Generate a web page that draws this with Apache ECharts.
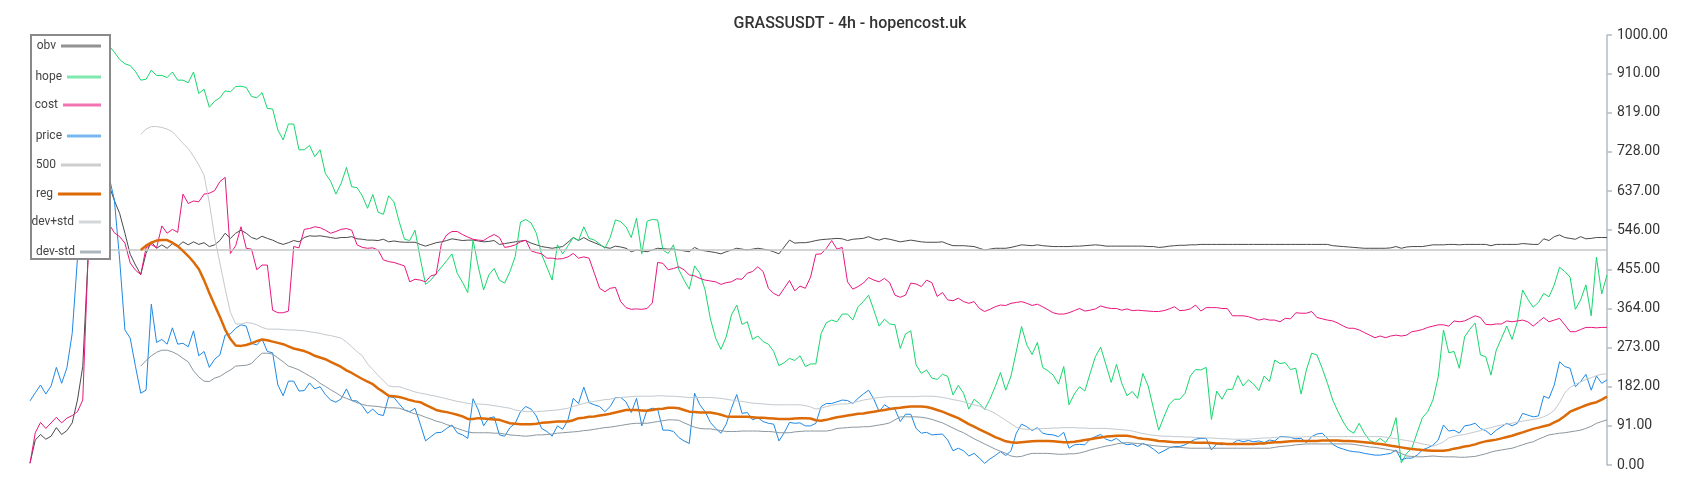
<!DOCTYPE html>
<html><head><meta charset="utf-8">
<script src="https://cdn.jsdelivr.net/npm/echarts@6/dist/echarts.min.js"></script>
<style>html,body{margin:0;padding:0;background:#fff}#c{width:1700px;height:500px}</style>
</head><body><div id="c"></div>
<script>
const titleText = 'GRASSUSDT - 4h - hopencost.uk';
const seriesNames = ['obv','hope','cost','price','500','reg','dev+std','dev-std'];
const yMin = 0, yMax = 1000, yStep = 91;

const obv = [
4,58,71,60,67,87,71,80,98,151,
229,480,620,700,690,650,615,585,539,490,
465,443,492,519,504,512,504,515,508,519,
512,519,513,517,508,512,522,539,527,539,
546,539,529,525,532,527,523,517,513,517,
522,519,529,533,532,533,531,529,527,529,
529,531,526,525,523,523,522,525,519,521,
519,518,518,518,513,509,513,517,519,522,
526,524,522,523,523,521,519,520,522,513,
515,517,519,521,522,516,512,508,506,504,
506,508,518,529,522,529,522,517,512,506,
504,509,507,504,496,500,498,496,500,504,
503,502,502,500,498,496,506,500,498,496,
494,491,496,500,504,502,500,502,504,502,
500,496,491,507,523,516,517,517,519,522,
524,525,526,527,526,522,525,526,527,531,
526,523,527,525,522,519,521,523,521,519,
518,518,518,519,514,510,510,510,509,508,
504,500,502,504,504,504,506,509,512,511,
510,512,510,509,508,508,508,508,509,509,
510,511,512,511,509,509,509,509,509,509,
509,509,508,508,506,507,509,510,511,511,
512,512,513,513,513,513,513,513,513,513,
513,513,513,513,513,513,513,513,513,513,
513,513,513,513,513,513,513,510,509,508,
507,506,505,504,504,504,504,504,505,508,
504,507,508,508,508,510,512,512,512,513,
513,512,513,513,513,513,513,510,513,513,
513,513,513,515,514,513,513,526,522,531,
535,529,527,525,531,526,527,529,529,529];

const hope = [
null,null,null,null,null,null,null,null,null,null,
null,null,null,1000,990,975,960,943,933,929,
915,895,897,918,906,906,901,914,895,895,
889,914,864,874,832,846,854,870,868,880,
881,878,857,854,866,829,828,779,756,793,
793,733,733,743,717,733,678,660,630,655,
692,647,645,626,597,629,588,583,626,612,
566,525,522,546,480,420,430,445,460,475,
491,446,425,401,523,461,407,442,457,430,
423,450,485,565,571,563,539,490,460,430,
512,491,510,529,522,554,527,523,514,504,
529,570,566,554,529,574,491,567,571,570,
500,492,512,455,430,409,463,446,407,340,
295,269,298,349,372,327,333,292,300,287,
281,264,231,238,248,243,254,229,235,235,
306,331,337,333,351,351,337,368,380,395,
360,323,339,328,326,271,305,312,233,213,
221,202,199,211,206,163,185,167,130,153,
143,129,153,182,215,174,207,264,322,279,
257,285,227,219,209,188,229,140,165,182,
172,213,252,274,233,192,234,190,161,171,
155,213,184,132,81,112,141,153,153,167,
207,222,221,227,106,172,153,176,176,208,
184,198,188,173,207,194,244,236,238,222,
225,165,221,260,256,225,190,151,124,100,
81,74,97,74,57,52,62,52,70,110,
5,27,39,75,110,124,151,205,314,261,
264,225,298,316,330,256,252,209,267,295,
323,292,333,407,385,367,378,399,391,419,
460,450,437,362,384,419,347,483,398,442];

const cost = [
4,75,99,85,98,111,98,109,115,124,
151,480,640,680,620,560,540,531,516,470,
453,443,505,513,505,556,539,548,541,630,
608,614,612,630,632,638,659,669,492,510,
554,504,502,454,465,465,360,354,354,358,
508,505,548,550,554,552,546,539,543,548,
550,546,512,506,504,505,500,477,473,471,
467,463,426,432,430,426,440,443,515,535,
543,543,536,530,525,523,522,530,536,529,
506,508,512,519,523,498,494,491,481,481,
479,480,484,492,481,484,481,446,411,403,
411,413,380,366,362,363,362,364,377,471,
469,454,457,461,454,442,440,434,430,428,
426,420,424,426,433,432,446,450,461,450,
411,399,393,411,429,405,416,411,437,490,
491,504,522,502,506,426,409,415,423,436,
430,426,434,424,395,390,395,423,421,415,
430,424,392,401,384,382,388,380,376,380,
364,357,362,368,372,371,376,378,380,376,
371,374,368,361,354,351,351,354,359,364,
358,360,363,370,366,364,364,360,363,359,
360,359,358,357,357,359,363,368,359,360,
363,372,358,366,366,366,364,364,347,347,
347,345,341,337,340,337,337,333,341,340,
354,353,353,357,343,340,337,335,330,323,
318,318,314,308,302,296,300,296,300,302,
300,302,310,312,315,320,323,326,326,323,
335,333,335,341,347,343,327,326,328,328,
335,333,335,337,333,323,333,343,333,337,
341,326,310,310,315,320,320,319,320,320];

const price = [
149,168,186,165,184,227,190,226,306,480,
620,700,720,700,690,670,616,477,314,295,
229,167,174,374,285,292,281,319,281,283,
275,312,254,264,227,246,256,302,305,318,
326,323,283,279,293,264,261,186,161,195,
195,172,173,191,177,182,164,151,146,154,
177,150,149,138,120,130,118,115,159,157,
142,128,124,132,95,56,66,75,76,85,
93,75,70,62,154,128,91,109,112,70,
67,87,97,124,136,130,114,85,78,67,
91,83,105,155,143,181,145,140,136,124,
136,157,157,147,122,155,91,128,132,130,
81,81,78,64,56,50,167,140,124,99,
85,74,95,132,164,120,122,105,110,101,
97,95,56,75,99,97,98,91,91,97,
136,143,143,147,151,150,143,155,165,174,
153,124,140,132,130,101,118,118,85,74,
76,70,71,72,58,33,39,33,21,27,
16,4,14,22,31,22,33,74,95,89,
80,87,74,71,70,66,76,39,47,48,
47,60,66,71,60,56,62,52,47,49,
43,50,45,37,27,33,40,43,43,47,
54,60,62,62,35,49,47,50,50,58,
54,57,54,56,52,58,56,66,66,64,
61,62,52,66,72,74,62,48,41,37,
33,31,30,27,25,23,23,25,27,35,
12,16,16,23,35,40,46,58,93,79,
81,74,91,93,97,85,80,70,81,89,
97,91,97,120,116,112,114,160,155,186,
240,229,225,182,194,211,174,207,190,198];

const level500 = 500;

const reg = [
null,null,null,null,null,null,null,null,null,null,
null,null,null,null,null,null,null,null,null,null,
null,500,510,517,522,523,523,517,509,498,
486,472,456,430,400,372,345,315,293,278,
277,279,283,288,292,290,287,284,281,276,
271,268,265,260,254,250,246,240,234,228,
220,214,207,200,194,188,178,170,161,160,
158,155,151,148,146,140,134,128,125,123,
120,117,113,107,107,109,108,107,106,105,
101,97,96,95,95,95,96,98,99,100,
101,101,101,104,109,110,112,113,115,117,
119,122,125,128,128,128,127,126,128,130,
131,133,133,132,128,124,123,122,122,122,
120,117,113,112,112,112,112,111,110,110,
109,108,107,107,107,108,109,109,108,104,
103,105,108,111,113,115,117,119,120,122,
124,126,128,130,132,133,135,136,136,136,
135,132,128,124,119,114,109,102,95,89,
83,77,71,65,60,55,53,52,53,54,
55,56,56,56,55,54,53,53,54,56,
58,60,62,64,66,67,68,68,68,66,
63,61,60,58,56,55,54,53,53,53,
53,52,52,52,51,50,50,49,49,49,
49,49,49,50,50,52,53,53,54,55,
56,56,56,56,56,57,57,57,57,56,
56,55,54,53,52,50,49,47,45,43,
41,39,37,36,35,34,33,33,33,35,
38,40,43,45,48,52,55,57,59,62,
65,68,72,76,80,84,87,90,93,99,
105,114,124,129,134,139,143,146,152,159];

const devPlus = [
null,null,null,null,null,null,null,null,null,null,
null,null,null,null,null,null,null,null,null,null,
null,769,781,787,787,785,781,775,762,748,
736,718,698,674,610,530,470,410,355,328,
328,331,330,326,320,316,316,316,315,314,
314,313,312,310,308,306,303,301,298,295,
286,275,264,254,235,222,208,196,184,182,
182,178,174,170,167,165,162,160,157,154,
151,148,146,143,142,142,141,140,138,136,
134,132,128,126,124,124,124,125,126,127,
128,130,132,136,140,143,146,148,150,152,
153,156,157,158,159,160,160,160,160,161,
161,160,160,159,158,157,157,157,157,157,
156,155,153,151,149,148,146,144,143,142,
141,140,140,140,140,140,140,138,135,130,
132,136,139,141,142,142,145,148,151,153,
155,157,158,159,159,159,159,159,159,160,
160,160,159,157,155,152,150,147,143,140,
137,131,126,120,112,104,96,88,84,83,
83,84,85,85,86,86,87,87,87,86,
86,85,85,85,85,84,83,82,81,79,
76,73,71,69,68,67,67,66,66,65,
65,64,64,63,63,62,61,61,60,60,
60,60,61,62,63,63,64,65,65,65,
65,65,66,66,66,66,66,66,66,66,
66,66,66,66,66,66,66,65,63,61,
59,57,55,52,49,47,44,48,54,63,
67,69,71,74,77,80,84,87,90,93,
95,97,100,102,104,106,108,112,118,127,
145,168,180,188,193,199,203,208,211,212];

const devMinus = [
null,null,null,null,null,null,null,null,null,null,
null,null,null,null,null,null,null,null,null,null,
null,230,243,254,262,267,267,263,257,248,
240,219,205,195,194,202,206,214,221,230,
231,232,236,249,260,260,258,249,240,230,
226,221,214,207,200,190,183,175,168,160,
155,150,145,141,138,137,136,134,133,133,
132,128,123,119,116,111,107,102,99,94,
90,85,81,77,75,75,75,75,74,74,
72,70,69,68,67,68,70,70,71,72,
74,75,76,77,78,80,81,83,85,87,
88,90,92,94,96,97,97,97,99,101,
103,105,105,104,98,93,88,85,84,84,
82,80,78,78,78,79,79,79,79,78,
78,77,75,75,75,77,78,79,79,79,
79,79,81,85,86,87,88,88,89,89,
91,93,95,98,105,112,112,112,112,111,
109,106,102,98,92,86,80,75,68,61,
55,49,43,37,32,27,21,19,20,24,
27,27,27,27,26,25,25,26,26,28,
31,35,38,41,44,46,49,51,52,51,
50,49,47,45,44,43,42,41,41,40,
39,39,39,39,39,39,39,39,39,39,
39,39,39,39,39,39,41,43,44,45,
47,48,49,49,49,49,49,49,49,49,
49,48,46,44,42,41,39,37,35,32,
27,21,20,19,19,20,21,20,19,19,
19,18,18,19,20,23,26,30,33,35,
37,39,43,47,51,54,60,65,70,72,
74,75,77,79,81,85,90,97,101,105];

// ---- build chart ----
const N = price.length;
const categories = Array.from({length: N}, (_, i) => String(i));
const flat500 = categories.map(() => level500);
const seriesData = [obv, hope, cost, price, flat500, reg, devPlus, devMinus];
const seriesColors = ['#4a4a4a','#17d66c','#e8177f','#1e88e5','#c6c6c6','#dc6a06','#c3c9ce','#8a979f'];
const seriesWidths = [1, 1, 1, 1, 1.5, 2.5, 1, 1];
const legendCenters = [47, 78, 106, 137, 166, 195, 223, 253];
const legendIconW = [40, 34, 38, 34, 40, 43, 22, 21];
const legendIconOpacity = [0.6, 0.55, 0.6, 0.6, 0.85, 1, 0.75, 0.7];

const chart = echarts.init(document.getElementById('c'), null, {renderer: 'canvas'});
const fontFamily = 'Roboto, "Noto Sans", sans-serif';
chart.setOption({
  animation: false,
  backgroundColor: '#fff',
  title: {
    text: titleText, left: 'center', top: 11,
    textStyle: {fontSize: 16, fontWeight: 500, color: '#333', fontFamily: fontFamily}
  },
  grid: {left: 30, right: 93, top: 35, bottom: 35},
  xAxis: {type: 'category', data: categories, boundaryGap: false, show: false},
  yAxis: {
    type: 'value', position: 'right', min: yMin, max: yMax, interval: yStep,
    axisLine: {show: true, lineStyle: {color: '#b3bdc3', width: 1.5}},
    axisTick: {show: true, length: 5, lineStyle: {color: '#b3bdc3', width: 1.5}},
    splitLine: {show: false},
    axisLabel: {fontSize: 14, color: '#333', margin: 10, fontFamily: fontFamily,
      showMinLabel: true, showMaxLabel: true,
      formatter: v => Number(v).toFixed(2)}
  },
  graphic: [{
    type: 'rect', z: 10,
    shape: {x: 31, y: 35, width: 79, height: 224},
    style: {fill: '#fff', stroke: '#8a8a8a', lineWidth: 2}
  }],
  legend: seriesNames.map((n, k) => ({
    data: [n], orient: 'horizontal', align: 'right', icon: 'rect',
    right: 1599, top: legendCenters[k] - 7, padding: 0, itemGap: 0,
    itemWidth: legendIconW[k], itemHeight: 3, selectedMode: false, z: 20,
    itemStyle: {opacity: legendIconOpacity[k]},
    textStyle: {fontSize: 12, color: '#444', fontFamily: fontFamily}
  })),
  series: seriesNames.map((n, k) => ({
    name: n, type: 'line', data: seriesData[k],
    showSymbol: false, symbol: 'none', silent: true, z: 2,
    connectNulls: false,
    lineStyle: {color: seriesColors[k], width: seriesWidths[k]},
    itemStyle: {color: seriesColors[k]}
  }))
});
</script>
</body></html>
